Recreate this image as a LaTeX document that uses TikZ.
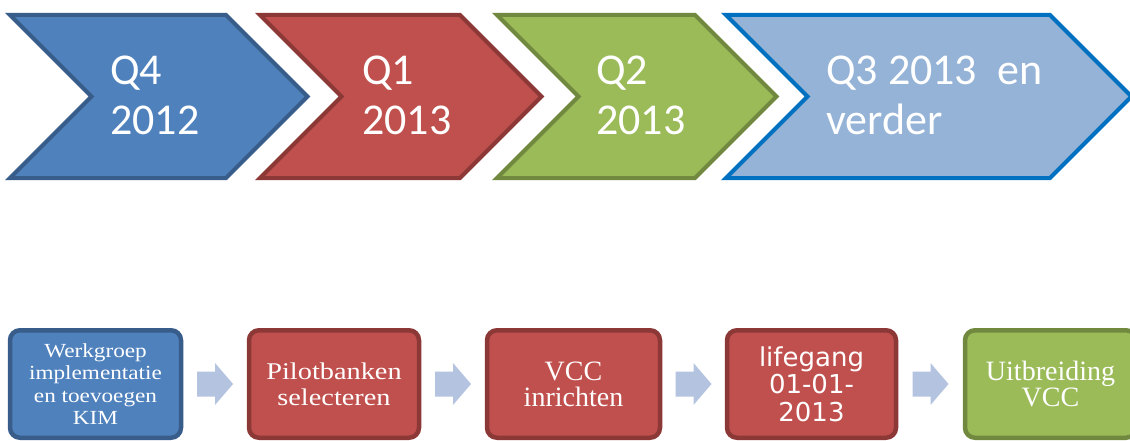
\documentclass[tikz,border=0pt]{standalone}
\usepackage{fontspec}
\setmainfont{Liberation Serif}
\newfontfamily\calibri{Carlito}
\newfontfamily\camwide[FakeStretch=1.16]{Liberation Serif}
\newfontfamily\camwider[FakeStretch=1.18]{Liberation Serif}
\newfontfamily\verd{DejaVu Sans}
\usetikzlibrary{calc}

\definecolor{bluefill}{HTML}{4F81BD}
\definecolor{blueline}{HTML}{385D8A}
\definecolor{redfill}{HTML}{C0504D}
\definecolor{redline}{HTML}{8C3836}
\definecolor{greenfill}{HTML}{9BBB59}
\definecolor{greenline}{HTML}{71893F}
\definecolor{skyfill}{HTML}{95B3D7}
\definecolor{skyline}{HTML}{0070C0}
\definecolor{arrowfill}{RGB}{180,196,224}

\tikzset{
  chev/.style={line width=4pt, line join=miter},
  chevtext/.style={anchor=west, inner sep=0pt, align=left, text=white,
    font=\calibri\fontsize{44}{50}\selectfont},
  stepbox/.style={rounded corners=10pt, line width=4.5pt, inner sep=0pt,
    minimum height=107.5pt, text=white, align=center},
  blockarrow/.style={fill=arrowfill, draw=none}
}

\begin{document}
\begin{tikzpicture}[x=1pt, y=-1pt]
\clip (0,0) rectangle (1130,441);
\fill[white] (0,0) rectangle (1130,441);

% timeline chevrons
\draw[chev, fill=bluefill, draw=blueline]
  (10,15) -- (226,15) -- (307.5,96.5) -- (226,178) -- (10,178) -- (91.5,96.5) -- cycle;
\draw[chev, fill=redfill, draw=redline]
  (260,15) -- (460,15) -- (541.5,96.5) -- (460,178) -- (260,178) -- (341.5,96.5) -- cycle;
\draw[chev, fill=greenfill, draw=greenline]
  (497,15) -- (695,15) -- (776.5,96.5) -- (695,178) -- (497,178) -- (578.5,96.5) -- cycle;
\draw[chev, fill=skyfill, draw=skyline]
  (726,15) -- (1050,15) -- (1131.5,96.5) -- (1050,178) -- (726,178) -- (807.5,96.5) -- cycle;

\node[chevtext] (q4) at (110,95) {Q4\\2012};
\node[chevtext] (q1) at (362,95) {Q1\\2013};
\node[chevtext] (q2) at (596,95) {Q2\\2013};
\node[chevtext] (q3) at (826,95) {Q3 2013~ en\\verder};

% process steps
\node[stepbox, fill=bluefill, draw=blueline, minimum width=171pt,
  font=\camwide\fontsize{20}{22.5}\selectfont] (b1) at (95.5,384)
  {Werkgroep\\implementatie\\en toevoegen\\KIM};
\node[stepbox, fill=redfill, draw=redline, minimum width=170pt,
  font=\camwider\fontsize{24}{26}\selectfont] (b2) at (334,384)
  {Pilotbanken\\selecteren};
\node[stepbox, fill=redfill, draw=redline, minimum width=173pt,
  font=\fontsize{28}{26}\selectfont] (b3) at (573.5,384)
  {VCC\\inrichten};
\node[stepbox, fill=redfill, draw=redline, minimum width=169pt,
  font=\verd\fontsize{26}{27.5}\selectfont] (b4) at (811.5,384)
  {lifegang\\01-01-\\2013};
\node[stepbox, fill=greenfill, draw=greenline, minimum width=171pt,
  font=\fontsize{28}{26}\selectfont] (b5) at (1050.5,384)
  {Uitbreiding\\VCC};

% block arrows between the steps
\foreach \a/\b in {b1/b2, b2/b3, b3/b4, b4/b5}{
  \path[blockarrow] ($(\a.east)!0.5!(\b.west)$) ++(-18,-12.5)
    -- ++(18,0) -- ++(0,-8.5) -- ++(18,21) -- ++(-18,21)
    -- ++(0,-8.5) -- ++(-18,0) -- cycle;
}
\end{tikzpicture}
\end{document}
